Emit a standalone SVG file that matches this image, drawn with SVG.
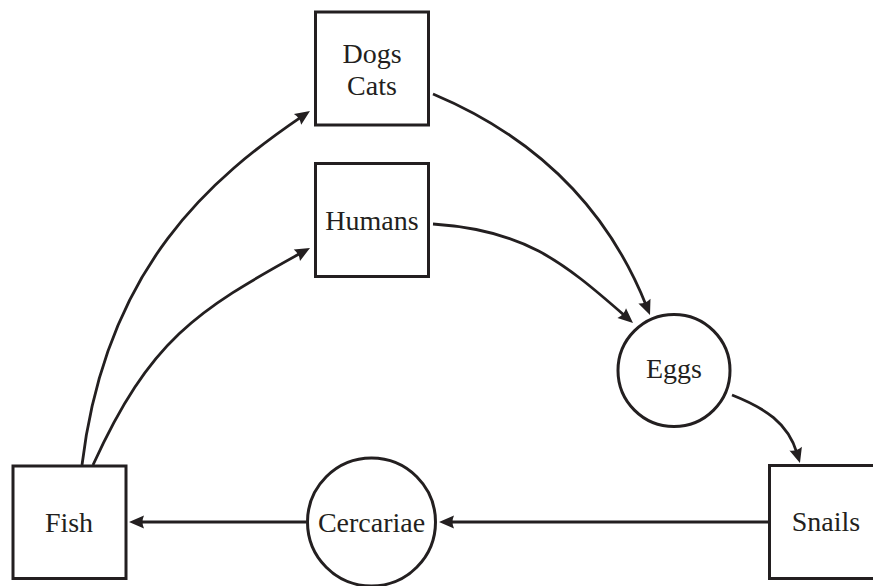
<svg xmlns="http://www.w3.org/2000/svg" width="873" height="586" viewBox="0 0 873 586">
<style>
.n{fill:#fff;stroke:#231f20;stroke-width:3}
.t{font-family:"Liberation Serif","Times New Roman",serif;font-size:28px;fill:#231f20;text-anchor:middle}
.e{fill:none;stroke:#231f20;stroke-width:2.8;marker-end:url(#ah)}
</style>
<defs>
<marker id="ah" markerUnits="userSpaceOnUse" markerWidth="30" markerHeight="30" viewBox="-10 -10 30 20" refX="0" refY="0" orient="auto">
<path d="M10,0 L-5,-6.5 Q-2,0 -5,6.5 Z" fill="#231f20"/>
</marker>
</defs>
<rect width="873" height="586" fill="#fff"/>
<g id="edges">
<path class="e" d="M82,465 C106,265 213.7,176.6 301.7,116.6"/>
<path class="e" d="M93,465 C150,340 196.25,310.85 301.25,252.85"/>
<path class="e" d="M433,94 C533,136 606.3,205.7 646.3,305.7"/>
<path class="e" d="M433,224 C523,230 560.5,259.4 625.5,316.4"/>
<path class="e" d="M732,395 C765,408 788,423 797.1,453.4"/>
<path class="e" d="M769,522 L449,522"/>
<path class="e" d="M306,522 L139,522"/>
</g>
<g id="dogscats"><rect class="n" x="315.5" y="12" width="113" height="113"/><text class="t" x="372" y="63">Dogs</text><text class="t" x="372" y="94.5">Cats</text></g>
<g id="humans"><rect class="n" x="315.5" y="163.5" width="113" height="113"/><text class="t" x="372" y="230">Humans</text></g>
<g id="eggs"><circle class="n" cx="674" cy="370.5" r="56"/><text class="t" x="674" y="378">Eggs</text></g>
<g id="snails"><rect class="n" x="769.5" y="465.5" width="113" height="113"/><text class="t" x="826" y="531">Snails</text></g>
<g id="cercariae"><circle class="n" cx="371.5" cy="522" r="64"/><text class="t" x="371.5" y="532">Cercariae</text></g>
<g id="fish"><rect class="n" x="13" y="466" width="113" height="112.5"/><text class="t" x="69" y="532">Fish</text></g>
</svg>
